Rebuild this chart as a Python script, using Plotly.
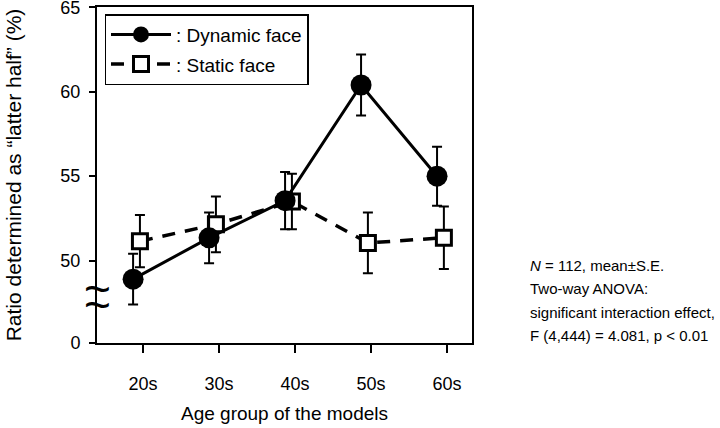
import plotly.graph_objects as go

# ---- data ----
age_groups = ["20s", "30s", "40s", "50s", "60s"]
dynamic_mean = [48.9, 51.35, 53.55, 60.4, 55.0]
dynamic_se = [1.5, 1.5, 1.7, 1.8, 1.75]
static_mean = [51.15, 52.15, 53.5, 51.05, 51.35]
static_se = [1.55, 1.65, 1.65, 1.8, 1.85]
y_tick_vals = [45.13, 50, 55, 60, 65]
y_tick_text = ["0", "50", "55", "60", "65"]
note_lines = [
    "<i>N</i> = 112, mean±S.E.",
    "Two-way ANOVA:",
    "significant interaction effect,",
    "F (4,444) = 4.081, p &lt; 0.01",
]
note_y = [0.232, 0.163, 0.092, 0.022]

FONT = "Liberation Sans, Arial, sans-serif"
idx = list(range(len(age_groups)))
dyn_x = [i - 0.13 for i in idx]
sta_x = [i - 0.04 for i in idx]

fig = go.Figure()

fig.add_trace(go.Scatter(
    x=sta_x, y=static_mean, name=": Static face", mode="lines+markers",
    legendgroup="s",
    line=dict(color="black", width=3.5, dash="13px,10px"),
    marker=dict(symbol="square", size=15, color="white", line=dict(color="black", width=3)),
    error_y=dict(type="data", array=static_se, color="black", thickness=2, width=5),
    legendrank=2,
))
fig.add_trace(go.Scatter(
    x=dyn_x, y=dynamic_mean, name=": Dynamic face", mode="lines+markers",
    legendgroup="d",
    line=dict(color="black", width=3),
    marker=dict(symbol="circle", size=21, color="black"),
    error_y=dict(type="data", array=dynamic_se, color="black", thickness=2, width=5),
    legendrank=1,
))

# axis break mark
for yb in (48.3, 47.4):
    fig.add_annotation(
        x=0, xref="paper", y=yb, yref="y", text="~", showarrow=False,
        font=dict(size=46, color="black", family=FONT), xanchor="center", yanchor="middle",
    )

for line, yy in zip(note_lines, note_y):
    fig.add_annotation(
        x=1.149, xref="paper", y=yy, yref="paper", showarrow=False,
        xanchor="left", yanchor="middle", align="left",
        text=line, font=dict(size=15, color="black", family=FONT),
    )

fig.update_layout(
    width=720, height=428,
    margin=dict(l=97, r=248, t=7, b=85),
    paper_bgcolor="white", plot_bgcolor="white",
    font=dict(family=FONT, size=18, color="black"),
    showlegend=True,
    legend=dict(
        x=0.02, y=0.979, xanchor="left", yanchor="top",
        bordercolor="black", borderwidth=1.5, bgcolor="white",
        font=dict(size=19, family=FONT, color="black"),
        tracegroupgap=2, itemwidth=60, entrywidth=194,
    ),
    xaxis=dict(
        range=[-0.605, 4.33], tickmode="array", tickvals=idx, ticktext=age_groups,
        showgrid=False, zeroline=False, showline=True, linecolor="black", linewidth=2,
        mirror=True, ticks="outside", ticklen=8, tickwidth=2, tickcolor="black",
        ticklabelstandoff=15, automargin=False, tickfont=dict(size=18),
        title=dict(text="Age group of the models", font=dict(size=19), standoff=14),
    ),
    yaxis=dict(
        range=[45.12, 65.02], tickmode="array", tickvals=y_tick_vals, ticktext=y_tick_text,
        showgrid=False, zeroline=False, showline=True, linecolor="black", linewidth=2,
        mirror=True, ticks="outside", ticklen=6, tickwidth=2, tickcolor="black",
        ticklabelstandoff=5, automargin=False, tickfont=dict(size=18),
        ticklabeloverflow="allow",
        title=dict(text="Ratio determined as “latter half” (%)", font=dict(size=21), standoff=33),
    ),
)

fig.write_html("out.html", post_script="document.body.style.margin='0';",
               config={"displayModeBar": False})
